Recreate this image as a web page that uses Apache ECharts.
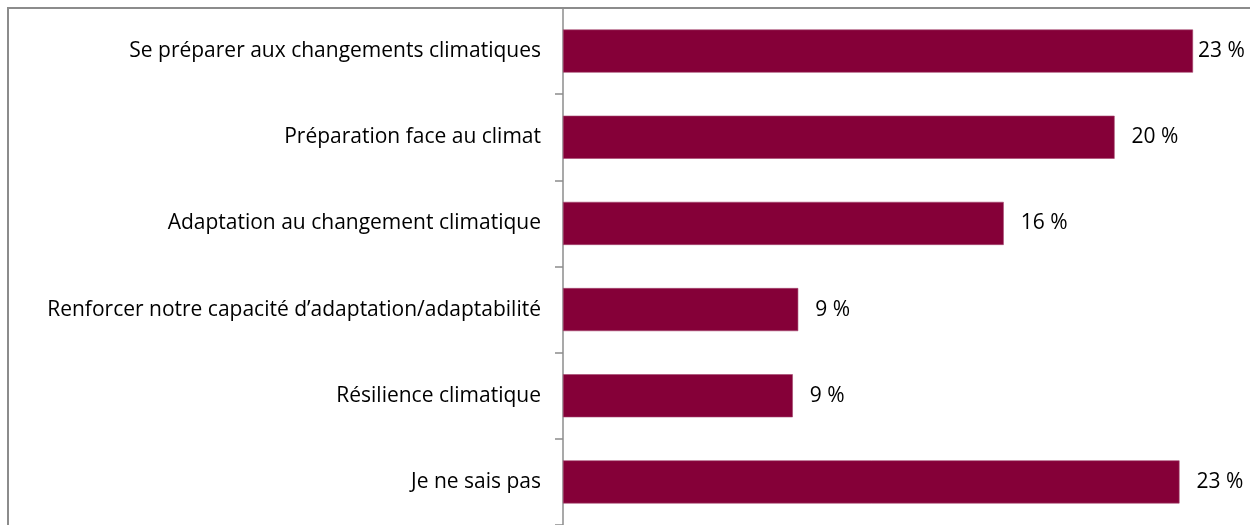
<!DOCTYPE html>
<html>
<head>
<meta charset="utf-8">
<script src="https://cdn.jsdelivr.net/npm/echarts@6/dist/echarts.min.js"></script>
<style>
  html, body { margin: 0; padding: 0; background: #fff; }
  #chart { width: 1250px; height: 525px; }
</style>
</head>
<body>
<div id="chart"></div>
<script>
// categories top to bottom
const categories = [
  'Se préparer aux changements climatiques',
  'Préparation face au climat',
  'Adaptation au changement climatique',
  'Renforcer notre capacité d\u2019adaptation/adaptabilité',
  'Résilience climatique',
  'Je ne sais pas',
];
const values = [23.3, 20.4, 16.3, 8.7, 8.5, 22.8];

const FONT = 'Open Sans';

// first label sits closer to its bar (it's squeezed against the right edge)
const seriesData = values.map((v, i) => (i === 0 ? { value: v, label: { distance: 5 } } : v));

const chart = echarts.init(document.getElementById('chart'));
chart.setOption({
  animation: false,
  grid: {
    left: 563,
    top: 8,
    width: 676,
    height: 519,
  },
  graphic: [
    {
      type: 'rect',
      shape: { x: 8, y: 8, width: 1300, height: 600 },
      style: { fill: 'none', stroke: '#8c8c8c', lineWidth: 2 },
      silent: true,
      z: -1,
    },
  ],
  xAxis: {
    type: 'value',
    min: 0,
    max: 25,
    show: false,
  },
  yAxis: {
    type: 'category',
    inverse: true,
    data: categories,
    axisLine: { lineStyle: { color: '#8c8c8c', width: 1.5 } },
    axisTick: { show: true, length: 8, lineStyle: { color: '#8c8c8c', width: 1.5 } },
    axisLabel: {
      color: '#000',
      fontFamily: FONT,
      fontSize: 21,
      margin: 22,
    },
  },
  series: [
    {
      type: 'bar',
      data: seriesData,
      barWidth: '50%',
      itemStyle: { color: '#850038', borderColor: '#a5476f', borderWidth: 0.6 },
      label: {
        show: true,
        position: 'right',
        distance: 17,
        color: '#000',
        fontFamily: FONT,
        fontSize: 21,
        formatter: (p) => Math.round(p.value) + ' %',
      },
    },
  ],
});
</script>
</body>
</html>
